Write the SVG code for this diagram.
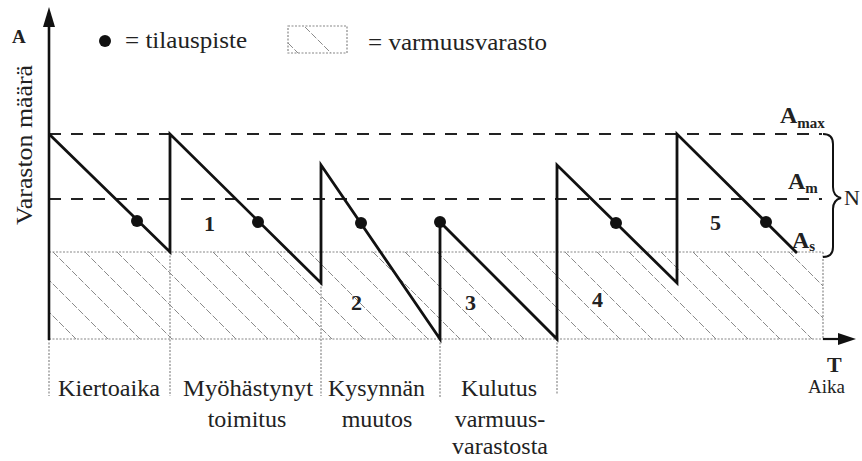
<svg xmlns="http://www.w3.org/2000/svg" width="862" height="461" viewBox="0 0 862 461" font-family="'Liberation Serif', 'Times New Roman', serif">
<defs>
<style>
text{font-family:"Liberation Serif","Times New Roman",serif;fill:#222}
.t{font-size:24px}
.b{font-weight:bold}
.saw{fill:none;stroke:#111;stroke-width:2.8;stroke-linejoin:miter}
.dash{stroke:#222;stroke-width:2;stroke-dasharray:12 10;fill:none}
.dot{stroke:#888;stroke-width:1.2;stroke-dasharray:2 1.5;fill:none}
.hatch{stroke:#8a8a8a;stroke-width:1;stroke-dasharray:7 2}
.pt{fill:#111}
</style>
<clipPath id="hclip"><rect x="49" y="252" width="774" height="87"/></clipPath>
</defs>
<rect width="862" height="461" fill="#fff"/>

<g id="hatch" clip-path="url(#hclip)">
<path class="hatch" d="M-43,252l87,87M-11,252l87,87M21,252l87,87M53,252l87,87M85,252l87,87M117,252l87,87M149,252l87,87M181,252l87,87M213,252l87,87M245,252l87,87M277,252l87,87M309,252l87,87M341,252l87,87M373,252l87,87M405,252l87,87M437,252l87,87M469,252l87,87M501,252l87,87M533,252l87,87M565,252l87,87M597,252l87,87M629,252l87,87M661,252l87,87M693,252l87,87M725,252l87,87M757,252l87,87M789,252l87,87"/>
</g>

<g id="guides">
<line class="dash" x1="49" y1="134" x2="822" y2="134"/>
<line class="dash" x1="49" y1="199" x2="822" y2="199"/>
<line class="dot" x1="49" y1="252" x2="823" y2="252"/>
<line class="dot" x1="823" y1="252" x2="823" y2="339"/>
<line class="dot" x1="49" y1="339" x2="823" y2="339"/>
<line class="dot" x1="49" y1="339" x2="49" y2="396"/>
<line class="dot" x1="170" y1="252" x2="170" y2="396"/>
<line class="dot" x1="321" y1="283" x2="321" y2="396"/>
<line class="dot" x1="440" y1="339" x2="440" y2="397"/>
<line class="dot" x1="557" y1="339" x2="557" y2="394"/>
</g>

<g id="axes">
<line x1="49" y1="340" x2="49" y2="22" stroke="#111" stroke-width="2.6"/>
<polygon points="49,7 43,27 55,27" fill="#111"/>
<line x1="823" y1="339" x2="842" y2="339" stroke="#111" stroke-width="2.2"/>
<polygon points="856,339 838,333 838,345" fill="#111"/>
<text x="12" y="43" class="b" style="font-size:19px">A</text>
<text transform="translate(32,145) rotate(-90)" class="t" text-anchor="middle" textLength="160" lengthAdjust="spacingAndGlyphs">Varaston määrä</text>
<text x="827" y="372" class="b" style="font-size:22px">T</text>
<text x="808" y="393" style="font-size:19px">Aika</text>
</g>

<g id="sawtooth">
<polyline class="saw" points="49,134 170,252 170,134 321,283 321,165 440,339 440,222 557,339 557,165 677,283 677,134 797,253"/>
<circle class="pt" cx="137" cy="221" r="6"/>
<circle class="pt" cx="258" cy="222" r="6"/>
<circle class="pt" cx="361" cy="223" r="6"/>
<circle class="pt" cx="440" cy="222" r="6"/>
<circle class="pt" cx="616" cy="223" r="6"/>
<circle class="pt" cx="766" cy="222" r="6"/>
</g>

<g id="numbers" class="b" style="font-size:22px">
<text x="204" y="231">1</text>
<text x="351" y="310">2</text>
<text x="465" y="310">3</text>
<text x="592" y="307">4</text>
<text x="710" y="230">5</text>
</g>

<g id="levels">
<text x="780" y="123" class="b" style="font-size:24px">A<tspan style="font-size:15px" dy="5">max</tspan></text>
<text x="788" y="189" class="b" style="font-size:24px">A<tspan style="font-size:15px" dy="4">m</tspan></text>
<text x="792" y="248" class="b" style="font-size:24px">A<tspan style="font-size:15px" dy="3">s</tspan></text>
<path d="M823,134 Q833,134 833,144 L833,187 Q833,196 841,198 Q833,200 833,209 L833,247 Q833,257 823,257" fill="none" stroke="#111" stroke-width="2"/>
<text x="844" y="205" style="font-size:22px">N</text>
</g>

<g id="legend">
<circle class="pt" cx="105" cy="41" r="6"/>
<text x="125" y="48" class="t" textLength="122" lengthAdjust="spacingAndGlyphs">= tilauspiste</text>
<rect class="dot" x="288" y="26" width="59" height="27"/>
<line class="hatch" x1="305" y1="27" x2="331" y2="53" stroke-dasharray="none"/>
<line class="hatch" x1="288" y1="43" x2="298" y2="53" stroke-dasharray="none"/>
<text x="368" y="50" class="t" textLength="179" lengthAdjust="spacingAndGlyphs">= varmuusvarasto</text>
</g>

<g id="labels" class="t">
<text x="58" y="396" textLength="102" lengthAdjust="spacingAndGlyphs">Kiertoaika</text>
<text x="183" y="396" textLength="130" lengthAdjust="spacingAndGlyphs">Myöhästynyt</text>
<text x="247" y="427" text-anchor="middle">toimitus</text>
<text x="328" y="396" textLength="97" lengthAdjust="spacingAndGlyphs">Kysynnän</text>
<text x="377" y="427" text-anchor="middle">muutos</text>
<text x="499" y="396" text-anchor="middle">Kulutus</text>
<text x="500" y="427" text-anchor="middle">varmuus-</text>
<text x="500" y="454" text-anchor="middle">varastosta</text>
</g>
</svg>
